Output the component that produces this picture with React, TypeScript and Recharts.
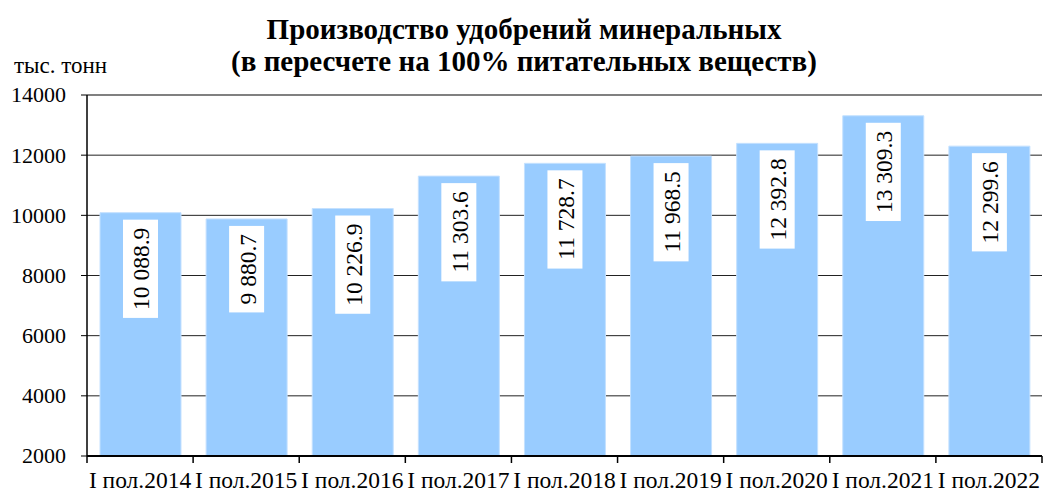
import React from 'react';
import { BarChart, Bar, XAxis, YAxis, CartesianGrid, ReferenceLine } from 'recharts';

const categories = ['I пол.2014', 'I пол.2015', 'I пол.2016', 'I пол.2017', 'I пол.2018', 'I пол.2019', 'I пол.2020', 'I пол.2021', 'I пол.2022'];
const values = [10088.9, 9880.7, 10226.9, 11303.6, 11728.7, 11968.5, 12392.8, 13309.3, 12299.6];
const yTicks = [2000, 4000, 6000, 8000, 10000, 12000, 14000];
const titleLines = ['Производство удобрений минеральных', '(в пересчете на 100% питательных веществ)'];
const unitLabel = 'тыс. тонн';

const data = categories.map((c, i) => ({ name: c, value: values[i] }));

const W = 1043;
const H = 496;
const MARGIN = { top: 95, right: 1, left: 27, bottom: 0 };
const Y_AXIS_W = 60;
const X_AXIS_H = 40;
const FONT = 'Liberation Serif, Times New Roman, DejaVu Serif, serif';
const LABEL_FS = 23.5;

const fmt = (v: number) => {
  const [ip, dp] = v.toFixed(1).split('.');
  return ip.replace(/\B(?=(\d{3})+(?!\d))/g, ' ') + '.' + dp;
};

const textWidth = (s: string, fs: number) => {
  let w = 0;
  for (const ch of s) {
    if (ch === ' ' || ch === '.') w += 0.25;
    else w += 0.5;
  }
  return w * fs;
};

const serif = { fontFamily: FONT };

const renderLabel = (props: any) => {
  const { x, y, width, value } = props;
  const cx = Number(x) + Number(width) / 2;
  const s = fmt(Number(value));
  const tw = textWidth(s, LABEL_FS);
  const boxTop = Number(y) + 7;
  const boxH = tw + 16;
  const tx = cx + 9;
  const ty = boxTop + 8;
  return (
    <g>
      <rect x={cx - 17.5} y={boxTop} width={35} height={boxH} fill="#ffffff" />
      <text
        x={tx}
        y={ty}
        textAnchor="end"
        transform={`rotate(-90, ${tx}, ${ty})`}
        style={{ ...serif, fontSize: LABEL_FS }}
        fill="#000"
      >
        {s}
      </text>
    </g>
  );
};

const plotW = W - MARGIN.left - MARGIN.right - Y_AXIS_W;
const halfBand = plotW / categories.length / 2;

const XTick = (props: any) => {
  const { x, y, payload, index } = props;
  const off = payload && payload.offset ? payload.offset : halfBand;
  const isLast = index === categories.length - 1;
  return (
    <g>
      <line x1={x - off} y1={y} x2={x - off} y2={y + 7} stroke="#000" strokeWidth={1.5} />
      {isLast && <line x1={x + off} y1={y} x2={x + off} y2={y + 7} stroke="#000" strokeWidth={1.5} />}
      <text x={x} y={y + 32} textAnchor="middle" style={{ ...serif, fontSize: 23.5 }} fill="#000">
        {payload.value}
      </text>
    </g>
  );
};

const YTick = (props: any) => {
  const { x, y, payload } = props;
  return (
    <text x={x} y={y} dy="0.34em" textAnchor="end" style={{ ...serif, fontSize: 22 }} fill="#000">
      {payload.value}
    </text>
  );
};

export default function App() {
  return (
    <div style={{ position: 'absolute', left: 0, top: 0, width: W, height: H, background: '#fff', ...serif }}>
      <BarChart width={W} height={H} data={data} margin={MARGIN} style={serif}>
        <CartesianGrid vertical={false} stroke="#222" strokeWidth={1} />
        <XAxis
          dataKey="name"
          height={X_AXIS_H}
          tickLine={false}
          tickSize={0}
          tickMargin={0}
          interval={0}
          axisLine={{ stroke: '#000', strokeWidth: 2 }}
          tick={<XTick />}
        />
        <YAxis
          width={Y_AXIS_W}
          domain={[2000, 14000]}
          ticks={yTicks}
          interval={0}
          allowDataOverflow
          tickSize={6}
          tickMargin={15}
          tickLine={{ stroke: '#000' }}
          axisLine={{ stroke: '#000', strokeWidth: 1.5 }}
          tick={<YTick />}
        />
        <YAxis
          yAxisId="r"
          orientation="right"
          width={0}
          domain={[2000, 14000]}
          tick={false}
          tickLine={false}
          axisLine={{ stroke: '#808080', strokeWidth: 2 }}
        />
        <Bar
          dataKey="value"
          fill="#99CCFF"
          stroke="#C4E1FF"
          strokeWidth={1}
          barSize={81}
          isAnimationActive={false}
          label={renderLabel}
        />
        <ReferenceLine y={14000} stroke="#808080" strokeWidth={2} />
      </BarChart>
      <svg width={W} height={H} style={{ position: 'absolute', left: 0, top: 0, pointerEvents: 'none' }}>
        <text x={524} y={39} textAnchor="middle" style={{ ...serif, fontSize: 29, fontWeight: 'bold' }} fill="#000">
          {titleLines[0]}
        </text>
        <text x={524} y={71} textAnchor="middle" style={{ ...serif, fontSize: 29, fontWeight: 'bold' }} fill="#000">
          {titleLines[1]}
        </text>
        <text x={14} y={73} style={{ ...serif, fontSize: 23 }} fill="#000">
          {unitLabel}
        </text>
      </svg>
    </div>
  );
}
